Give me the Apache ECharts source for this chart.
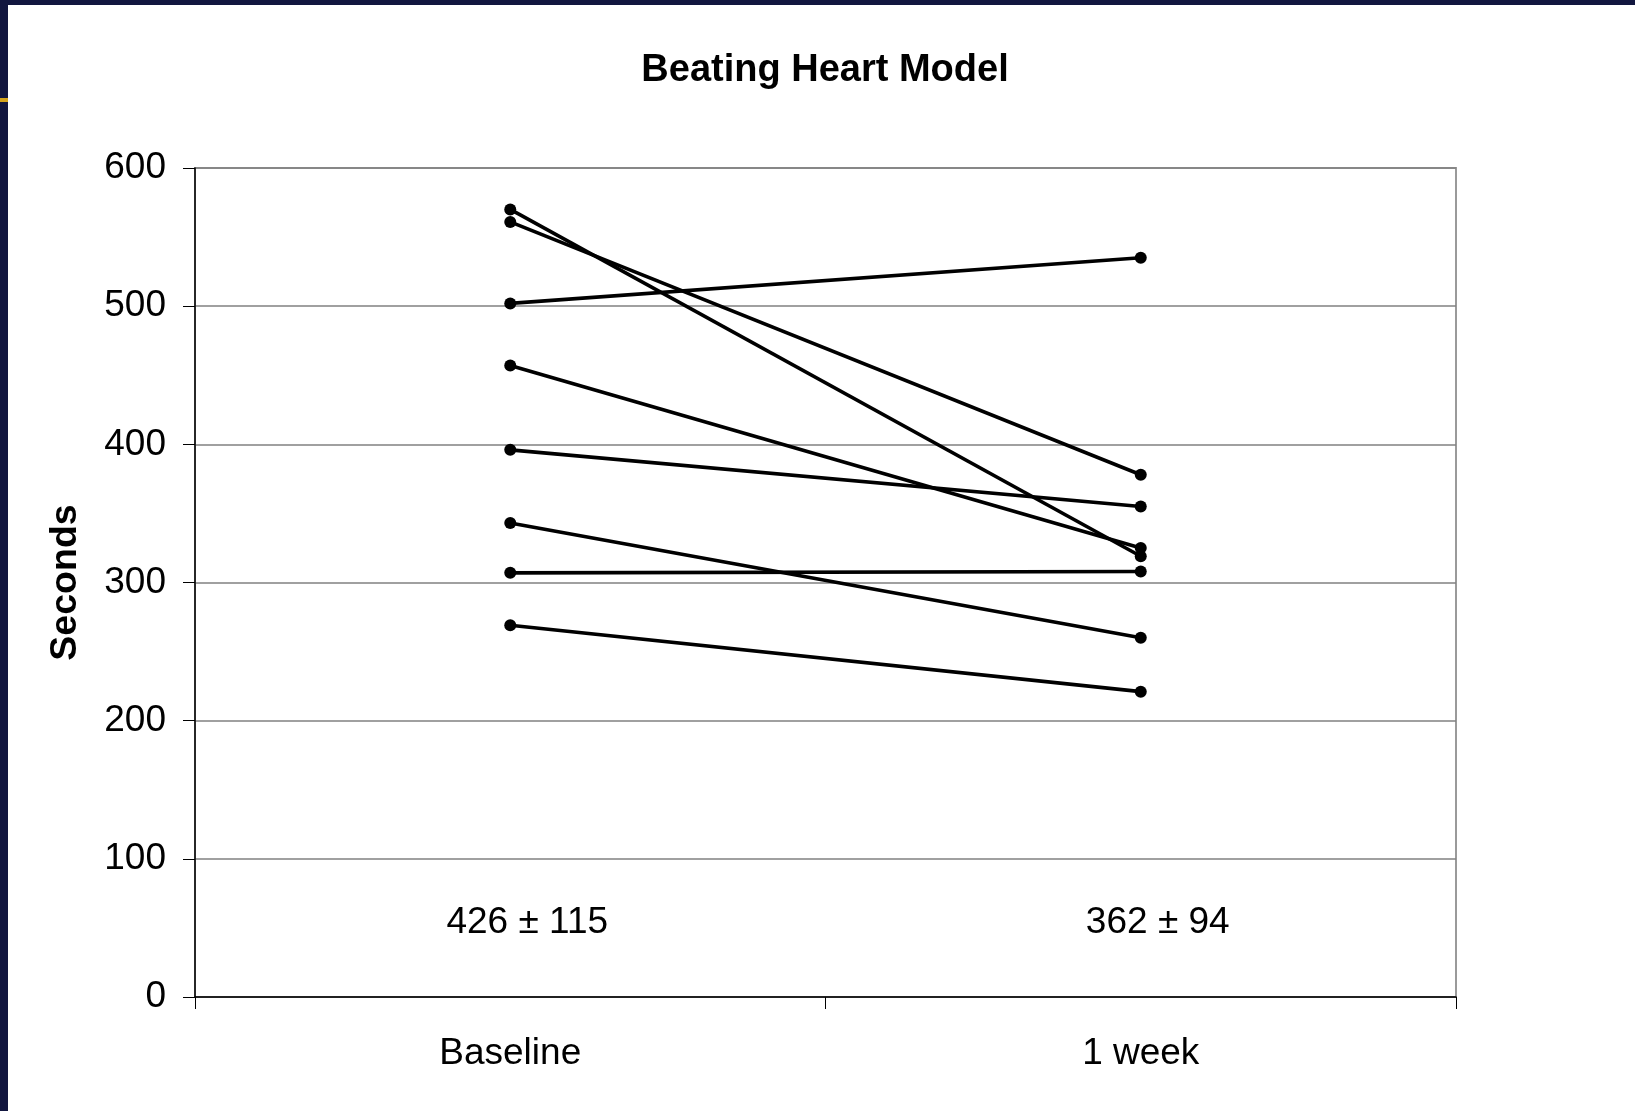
<!DOCTYPE html>
<html>
<head>
<meta charset="utf-8">
<script src="https://cdn.jsdelivr.net/npm/echarts@6/dist/echarts.min.js"></script>
<style>
  html, body { margin: 0; padding: 0; background: #ffffff; }
  #chart { width: 1635px; height: 1111px; }
</style>
</head>
<body>
<div id="chart"></div>
<script>
// Time points on the x axis
const categories = ['Baseline', '1 week'];
// Seconds per subject at each time point (same order in both lists)
const baselineSeconds = [570, 561, 502, 457, 396, 343, 307, 269];
const weekSeconds     = [319, 378, 535, 325, 355, 260, 308, 221];
// Mean ± SD written under each time point
const summaryText = ['426 ± 115', '362 ± 94'];
// Y axis ticks
const yTicks = [0, 100, 200, 300, 400, 500, 600];

const FONT = '"Liberation Sans", Arial, Helvetica, sans-serif';
const SUMMARY_LEVEL = 54; // height (in seconds) at which the summary text sits

const subjectSeries = baselineSeconds.map((b, i) => ({
  name: 'Subject ' + (i + 1),
  type: 'line',
  data: [b, weekSeconds[i]],
  symbol: 'circle',
  symbolSize: 12,
  lineStyle: { color: '#000000', width: 3.6 },
  itemStyle: { color: '#000000' },
  emphasis: { disabled: true },
  z: 3
}));

const summarySeries = {
  name: 'summary',
  type: 'scatter',
  silent: true,
  symbolSize: 1,
  itemStyle: { color: 'rgba(0,0,0,0)', opacity: 1 },
  data: categories.map((c, i) => [i, SUMMARY_LEVEL]),
  label: {
    show: true,
    position: 'inside',
    offset: [17, 0],
    formatter: p => summaryText[p.dataIndex],
    color: '#000000',
    opacity: 1,
    fontFamily: FONT,
    fontSize: 37
  },
  z: 4
};

const chart = echarts.init(document.getElementById('chart'), null, { renderer: 'canvas' });
chart.setOption({
  backgroundColor: '#ffffff',
  animation: false,
  graphic: [
    // slide frame: dark band on top and left, with a small gold accent
    { type: 'rect', shape: { x: 0, y: 0, width: 1635, height: 5 }, style: { fill: '#12163f' }, z: 10 },
    { type: 'rect', shape: { x: 0, y: 0, width: 8, height: 1111 }, style: { fill: '#12163f' }, z: 10 },
    { type: 'rect', shape: { x: 0, y: 98, width: 8, height: 4 }, style: { fill: '#d4a31c' }, z: 11 },
    {
      type: 'text', x: 825, y: 71,
      style: {
        text: 'Beating Heart Model', fill: '#000000',
        font: 'bold 38px ' + FONT, textAlign: 'center', textVerticalAlign: 'middle'
      },
      z: 10
    }
  ],
  grid: {
    left: 195, top: 168, right: 179, bottom: 114,
    show: true, borderColor: '#9a9a9a', borderWidth: 2, backgroundColor: 'transparent'
  },
  xAxis: {
    type: 'category',
    data: categories,
    boundaryGap: true,
    axisLine: { show: true, lineStyle: { color: '#000000', width: 1.5 } },
    axisTick: { show: true, length: 12, alignWithLabel: false, lineStyle: { color: '#000000', width: 1 } },
    axisLabel: { color: '#000000', fontFamily: FONT, fontSize: 37, margin: 38 },
    splitLine: { show: false }
  },
  yAxis: {
    type: 'value',
    min: yTicks[0],
    max: yTicks[yTicks.length - 1],
    interval: 100,
    name: 'Seconds',
    nameLocation: 'middle',
    nameGap: 110,
    nameRotate: 90,
    nameTextStyle: { color: '#000000', fontFamily: FONT, fontSize: 37.5, fontWeight: 'bold' },
    axisLine: { show: true, lineStyle: { color: '#000000', width: 1.5 } },
    axisTick: { show: true, length: 12, lineStyle: { color: '#000000', width: 1 } },
    axisLabel: { color: '#000000', fontFamily: FONT, fontSize: 37, margin: 29 },
    splitLine: { show: true, lineStyle: { color: '#808080', width: 1.5 } }
  },
  series: [...subjectSeries, summarySeries]
});
</script>
</body>
</html>
